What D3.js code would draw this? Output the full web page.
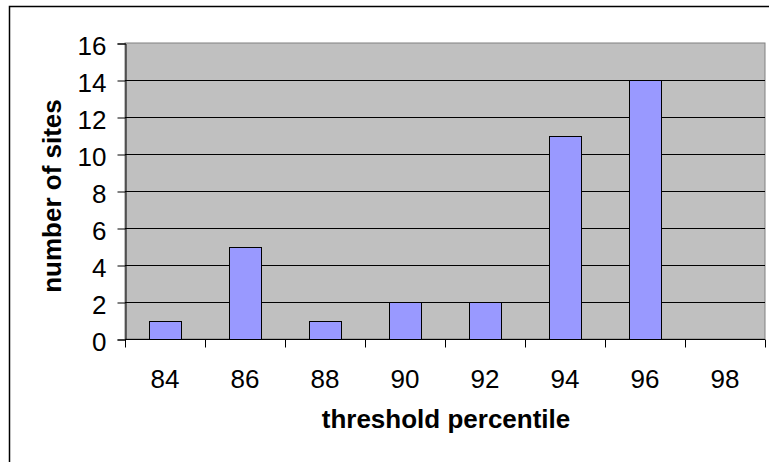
<!DOCTYPE html>
<html>
<head>
<meta charset="utf-8">
<script src="https://cdn.jsdelivr.net/npm/d3@7"></script>
<style>
  body { margin: 0; background: #fff; }
  svg { display: block; font-family: Arial, "Liberation Sans", sans-serif; }
</style>
</head>
<body>
<div id="chart"></div>
<script>
// Chart data
const categories = ["84", "86", "88", "90", "92", "94", "96", "98"];
const siteCounts = [1, 5, 1, 2, 2, 11, 14, 0];
const yTicks = [0, 2, 4, 6, 8, 10, 12, 14, 16];

const W = 769, H = 462;
const plot = { left: 125, top: 43, right: 765, bottom: 339 };
const FONT = "Arial, 'Liberation Sans', sans-serif";

const svg = d3.select("#chart").append("svg")
  .attr("width", W).attr("height", H);

// Outer chart border (runs off the right/bottom edge)
svg.append("rect")
  .attr("x", 9.5).attr("y", 6.5)
  .attr("width", 820).attr("height", 500)
  .attr("fill", "#fff").attr("stroke", "#000").attr("stroke-width", 1.5);

const x = d3.scaleBand()
  .domain(categories)
  .range([plot.left, plot.right])
  .paddingInner(0.6).paddingOuter(0.3);

const xCat = d3.scaleBand().domain(categories).range([plot.left, plot.right]);

const y = d3.scaleLinear().domain([0, 16]).range([plot.bottom, plot.top]);

// Plot area
svg.append("rect")
  .attr("x", plot.left).attr("y", plot.top)
  .attr("width", plot.right - plot.left).attr("height", plot.bottom - plot.top)
  .attr("fill", "#c0c0c0").attr("stroke", "#808080").attr("stroke-width", 1);

// Gridlines
svg.selectAll("line.grid")
  .data(yTicks.filter(d => d > 0 && d < 16)).join("line").attr("class", "grid")
  .attr("x1", plot.left).attr("x2", plot.right)
  .attr("y1", d => Math.round(y(d)) + 0.5).attr("y2", d => Math.round(y(d)) + 0.5)
  .attr("stroke", "#000").attr("stroke-width", 1);

// Bars
svg.selectAll("rect.bar")
  .data(siteCounts.map((v, i) => ({ cat: categories[i], v })).filter(d => d.v > 0))
  .join("rect").attr("class", "bar")
  .attr("x", d => Math.round(x(d.cat)) + 0.5)
  .attr("y", d => Math.round(y(d.v)) + 0.5)
  .attr("width", Math.round(x.bandwidth()))
  .attr("height", d => Math.round(y(0)) - Math.round(y(d.v)))
  .attr("fill", "#9999ff").attr("stroke", "#000").attr("stroke-width", 1);

// Y axis
const yAxis = svg.append("g")
  .attr("transform", `translate(${plot.left + 0.5},0.5)`)
  .call(d3.axisLeft(y).tickValues(yTicks).tickSize(8).tickPadding(11));
yAxis.attr("font-size", 26).attr("font-family", FONT);
yAxis.select(".domain").attr("stroke", "#000");
yAxis.selectAll("text").attr("fill", "#000").attr("dy", "0.42em");

// X axis: ticks at category boundaries, labels centred
const xg = svg.append("g").attr("transform", `translate(0,${plot.bottom + 0.5})`);
xg.append("line")
  .attr("x1", plot.left).attr("x2", plot.right)
  .attr("stroke", "#000");
const bounds = categories.map(c => xCat(c)).concat([plot.right]);
xg.selectAll("line.tick")
  .data(bounds).join("line").attr("class", "tick")
  .attr("x1", d => Math.round(d) + 0.5).attr("x2", d => Math.round(d) + 0.5)
  .attr("y1", 0).attr("y2", 8)
  .attr("stroke", "#000");
xg.selectAll("text")
  .data(categories).join("text")
  .attr("x", d => xCat(d) + xCat.bandwidth() / 2)
  .attr("y", 48)
  .attr("text-anchor", "middle")
  .attr("font-size", 26)
  .text(d => d);

// Axis titles
svg.append("text")
  .attr("x", 446).attr("y", 428)
  .attr("text-anchor", "middle")
  .attr("font-size", 26).attr("font-weight", "bold")
  .text("threshold percentile");

svg.append("text")
  .attr("transform", `translate(61,196) rotate(-90)`)
  .attr("text-anchor", "middle")
  .attr("font-size", 26).attr("font-weight", "bold")
  .text("number of sites");
</script>
</body>
</html>
